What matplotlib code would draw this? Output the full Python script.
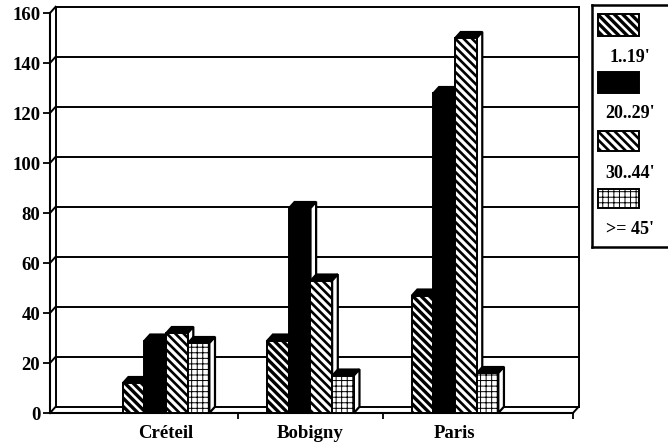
"""Pseudo-3D grouped bar chart: travel-time classes per city (scanned report figure)."""
import matplotlib
matplotlib.use("Agg")
import matplotlib.pyplot as plt
from matplotlib.patches import Polygon, Rectangle


plt.rcParams.update({
    "font.family": ["Liberation Serif", "DejaVu Serif"],
    "font.weight": "bold",
    "hatch.color": "black",
    "hatch.linewidth": 2.0,
    "axes.linewidth": 1.5,
})

# Data.
CITIES = ["Créteil", "Bobigny", "Paris"]
SERIES = ["1..19'", "20..29'", "30..44'", ">= 45'"]
V_1_19 = [12, 29, 47]
V_20_29 = [29, 82, 128]
V_30_44 = [32, 53, 150]
V_45_PLUS = [28, 15, 16]
Y_TICKS = [0, 20, 40, 60, 80, 100, 120, 140, 160]

W, H = 668, 447
X_LIM = (-0.803, 2.817)
Y_MAX = 160
BAR_W = 0.15
DX, DY = 0.039, 2.5          # depth offset of the 3D look, data units

# face colour, hatch, hatch linewidth for each series
STYLES = [
    ("white", r"\\\\", 2.4),
    ("black", None, 1.0),
    ("white", r"\\\\", 1.9),
    ("white", "|||---", 0.7),
]


def set_hlw(patch, lw):
    if hasattr(patch, "set_hatch_linewidth"):
        patch.set_hatch_linewidth(lw)


def draw_bar(ax, x0, h, style, z):
    face, hatch, hlw = style
    x1 = x0 + BAR_W
    side = Polygon([(x1, 0), (x1 + DX, DY), (x1 + DX, h + DY), (x1, h)],
                   closed=True, facecolor="white", edgecolor="black",
                   linewidth=1.6, zorder=z, clip_on=False)
    top = Polygon([(x0, h), (x0 + DX, h + DY), (x1 + DX, h + DY), (x1, h)],
                  closed=True, facecolor="black", edgecolor="black",
                  linewidth=1.2, zorder=z, clip_on=False)
    ax.add_patch(side)
    ax.add_patch(top)
    bars = ax.bar([x0], [h], width=BAR_W, align="edge", facecolor=face,
                  edgecolor="black", linewidth=1.4, hatch=hatch,
                  zorder=z + 0.05)
    for b in bars:
        set_hlw(b, hlw)


def draw_walls(ax):
    xl, xr = X_LIM
    kw = dict(color="black", linewidth=1.4, zorder=1, clip_on=False)
    # back-wall gridlines and their left-wall connectors
    for v in Y_TICKS:
        ax.plot([xl + DX, xr + DX], [v + DY, v + DY], **kw)
        ax.plot([xl, xl + DX], [v, v + DY], **kw)
    ax.plot([xl + DX, xl + DX], [DY, Y_MAX + DY], **kw)
    ax.plot([xr + DX, xr + DX], [DY, Y_MAX + DY], **kw)
    ax.plot([xr, xr + DX], [0, DY], **kw)


def draw_legend(fig):
    # box is cut by the right edge of the picture, as in the scan
    top, bottom = 5, 247
    lax = fig.add_axes([592 / W, (H - bottom) / H, (W - 592) / W,
                        (bottom - top) / H])
    lax.set_xlim(592, W)
    lax.set_ylim(bottom, top)
    lax.set_xticks([])
    lax.set_yticks([])
    lax.spines["right"].set_visible(False)
    for sp in lax.spines.values():
        sp.set_linewidth(1.8)
    sw_top = [14, 72, 131, 189]
    sw_h = [22, 21, 20, 19]
    lab_y = [57, 113, 173, 230]
    for name, style, t, hh, ly in zip(SERIES, STYLES, sw_top, sw_h, lab_y):
        face, hatch, hlw = style
        r = Rectangle((598, t), 41, hh, facecolor=face, edgecolor="black",
                      linewidth=1.4, hatch=hatch)
        set_hlw(r, hlw)
        lax.add_patch(r)
        lax.text(630, ly, name, ha="center", va="center", fontsize=13,
                 fontweight="bold", clip_on=False)


def build_figure():
    fig = plt.figure(figsize=(W / 100, H / 100), dpi=100)
    ax = fig.add_axes([50 / W, 34 / H, 523 / W, 400 / H])
    ax.set_xlim(*X_LIM)
    ax.set_ylim(0, Y_MAX)
    ax.patch.set_alpha(0)

    draw_walls(ax)

    series_vals = [V_1_19, V_20_29, V_30_44, V_45_PLUS]
    for ci in range(len(CITIES)):
        for si, vals in enumerate(series_vals):
            x0 = ci + (si - 2) * BAR_W
            draw_bar(ax, x0, vals[ci], STYLES[si], 3 + si * 0.1)

    ax.spines["top"].set_visible(False)
    ax.spines["right"].set_visible(False)
    ax.set_yticks(Y_TICKS)
    ax.tick_params(axis="y", length=5, width=1.3, pad=2, labelsize=13.5)
    ax.set_xticks([0.5, 1.5, X_LIM[1]])
    ax.set_xticklabels([])
    ax.tick_params(axis="x", which="major", length=4, width=1.3)
    ax.set_xticks([0, 1, 2], CITIES, minor=True)
    ax.tick_params(axis="x", which="minor", length=0, pad=9, labelsize=13.5)

    draw_legend(fig)
    return fig


def main():
    fig = build_figure()
    fig.savefig("out.png", dpi=100)
    plt.close(fig)


if __name__ == "__main__":
    main()
